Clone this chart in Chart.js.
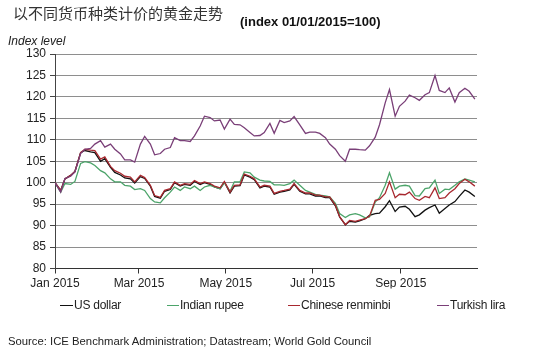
<!DOCTYPE html>
<html>
<head>
<meta charset="utf-8">
<script src="https://cdn.jsdelivr.net/npm/chart.js@4.4.1/dist/chart.umd.min.js"></script>
<style>
  html, body { margin: 0; padding: 0; background: #fff; }
  #wrap { position: relative; width: 550px; height: 356px; overflow: hidden; }
  canvas { position: absolute; left: 0; top: 0; }
  .t { position: absolute; white-space: nowrap; line-height: 1; color: #222;
       font-family: "Liberation Sans", Arial, sans-serif; }
  .leg { font-size: 12px; letter-spacing: -0.25px; top: 299px; }
  .lg { position: absolute; height: 1px; top: 305px; }
</style>
</head>
<body>
<div id="wrap">
  <canvas id="c" width="550" height="356"></canvas>
  <div class="t" style="left:13px;top:5px;font-size:15px;font-family:'Noto Sans CJK SC',sans-serif;color:#333;">以不同货币种类计价的黄金走势</div>
  <div class="t" style="left:240px;top:15px;font-size:13px;font-weight:bold;color:#111;">(index 01/01/2015=100)</div>
  <div class="t" style="left:8px;top:35px;font-size:12px;font-style:italic;">Index level</div>

  <div class="lg" style="left:60px;width:13px;background:#111;"></div>
  <div class="t leg" style="left:74px;">US dollar</div>
  <div class="lg" style="left:167px;width:12px;background:#4ca46a;"></div>
  <div class="t leg" style="left:180px;">Indian rupee</div>
  <div class="lg" style="left:288px;width:12px;background:#a8282f;"></div>
  <div class="t leg" style="left:301px;">Chinese renminbi</div>
  <div class="lg" style="left:437px;width:12px;background:#7a3f78;"></div>
  <div class="t leg" style="left:450px;">Turkish lira</div>

  <div class="t" style="left:8px;top:336px;font-size:11.3px;">Source: ICE Benchmark Administration; Datastream; World Gold Council</div>
</div>
<script>
// x positions: days since 1 Jan 2015
const days = [0,4,7,11,14,18,21,25,28,32,
  35,39,42,46,49,53,56,60,63,67,
  70,74,77,81,84,88,91,95,98,102,
  105,109,112,116,119,123,126,130,133,137,
  140,144,147,151,154,158,161,165,168,172,
  176,179,183,186,190,193,197,200,204,207,
  211,214,218,221,225,228,232,235,239,242,
  246,249,253,256,260,263,267,270,274,277,
  281,284,288,291,295];

const usDollar = [100,98.2,100.9,101.7,102.6,107,107.5,107.2,107,105,
  105.6,103.6,102.4,101.8,101.1,100.9,99.9,101.4,101,99.2,
  96.8,96.4,98,98.4,100,99.2,99.6,99.4,100.3,99.6,
  100,99.6,99,98.6,100.1,97.6,99.2,99.3,101.8,101.3,
  100.7,98.8,99.2,99,97.3,97.8,98,98.3,99.6,98,
  97.4,97.4,96.9,96.9,96.5,96.5,94.6,92,90.2,91,
  90.8,91.1,91.6,92.4,92.8,92.9,94.4,95.8,93.3,94.3,
  94.5,93.8,92.1,92.5,93.6,94.2,94.8,92.9,94,94.8,
  95.6,96.8,98.3,97.8,96.8];

const indianRupee = [100,97.8,99.8,99.6,100.3,104.5,104.9,104.6,104,102.8,
  102.3,100.9,100.2,100.2,99.4,99.2,98.4,98.6,98.2,96.3,
  95.5,95.3,96.5,97.8,99,98.2,99,98.6,99.2,98.2,
  99,99.4,99,98.6,100,98,100.2,100.2,102.5,102.3,
  101.3,100.6,100.4,100.3,99.5,99.5,99.4,99.8,100.6,99.4,
  98.2,97.8,97.3,97.1,96.9,96.7,95.2,92.8,91.9,92.5,
  92.8,92.5,91.8,92,95.5,96.5,99.4,102.3,98.5,99.2,
  99.4,99.2,97,96.9,98.6,98.8,100.6,97.5,98.5,98.4,
  99.4,100.2,100.9,100.6,100.2];

const chineseRenminbi = [100,98.2,100.9,101.7,102.6,107,107.8,107.6,107.5,105.5,
  106,103.8,102.8,102.2,101.5,101.3,100.2,101.7,101.2,99.4,
  97,96.6,98.2,98.6,100.2,99.4,99.8,99.6,100.5,99.8,
  100.2,99.8,99.2,98.8,100.3,97.8,99.4,99.5,102,101.5,
  100.9,99,99.4,99.2,97.5,98,98.2,98.5,99.8,98.2,
  97.6,97.6,97.1,97.1,96.7,96.7,94.8,92.1,90.2,91.2,
  91,91.3,91.6,92.2,95.9,96.1,97.5,100.2,96.5,97.3,
  97.2,97.8,96.3,95.9,96.8,96.5,98.8,96.3,96.5,97.6,
  98.6,99.8,100.8,100.2,99.2];

const turkishLira = [100,97.8,101,101.5,102.5,106.8,107.8,108,109,109.8,
  108.3,109,107.8,106.7,105.3,105.3,104.8,109,110.8,109,
  106.5,106.8,107.8,108.2,110.5,109.8,109.8,109.6,110.9,113.2,
  115.5,115.2,114.4,114.6,112.5,114.8,113.6,113.5,112.8,111.7,
  110.9,111,111.7,113.8,111.5,114.5,114,114.4,115.4,113.5,
  111.5,111.8,111.8,111.5,110.5,109,107.8,106.3,105,107.8,
  107.8,107.7,107.6,108.6,110.6,113.5,118.6,121.7,115.5,117.8,
  119,120.4,119.8,119.2,120.5,121,125,121.5,121,122.1,
  118.8,121,122,121.3,119.5];

const tickDays = [0, 59, 120, 181, 243];
const tickLabels = ['Jan 2015', 'Mar 2015', 'May 2015', 'Jul 2015', 'Sep 2015'];
const yMin = 80, yMax = 130, yStep = 5;

const pts = arr => arr.map((v, i) => ({ x: days[i], y: v }));
const font = { family: "'Liberation Sans', Arial, sans-serif", size: 12 };

new Chart(document.getElementById('c'), {
  type: 'line',
  data: {
    datasets: [
      { label: 'Turkish lira', data: pts(turkishLira), borderColor: '#7a3f78', order: 1 },
      { label: 'Chinese renminbi', data: pts(chineseRenminbi), borderColor: '#a8282f', order: 2 },
      { label: 'Indian rupee', data: pts(indianRupee), borderColor: '#4ca46a', order: 3 },
      { label: 'US dollar', data: pts(usDollar), borderColor: '#111111', order: 4 }
    ].map(d => Object.assign(d, { borderWidth: 1.3, pointRadius: 0, tension: 0, fill: false }))
  },
  options: {
    responsive: false,
    animation: false,
    devicePixelRatio: 1,
    layout: { padding: { left: 0, top: 54, right: 73, bottom: 67.5 } },
    plugins: { legend: { display: false }, tooltip: { enabled: false }, title: { display: false } },
    scales: {
      x: {
        type: 'linear', min: 0, max: 296.5,
        afterBuildTicks: s => { s.ticks = tickDays.map(v => ({ value: v })); },
        afterFit: s => { s.height = 20; },
        ticks: {
          autoSkip: false, maxRotation: 0, padding: 3, color: '#222', font,
          callback: v => { const i = tickDays.indexOf(v); return i >= 0 ? tickLabels[i] : ''; }
        },
        grid: { drawOnChartArea: false, drawTicks: true, tickLength: 5, tickColor: '#333' },
        border: { display: true, color: '#333', width: 1 }
      },
      y: {
        min: yMin, max: yMax,
        afterFit: s => { s.width = 55; },
        ticks: { stepSize: yStep, padding: 4, color: '#222', font },
        grid: {
          color: c => (c.tick && c.tick.value === yMin) ? 'rgba(0,0,0,0)' : '#8e8e8e',
          lineWidth: 1, drawTicks: true, tickLength: 5, tickColor: '#444'
        },
        border: { display: true, color: '#444', width: 1 }
      }
    }
  }
});
</script>
</body>
</html>
